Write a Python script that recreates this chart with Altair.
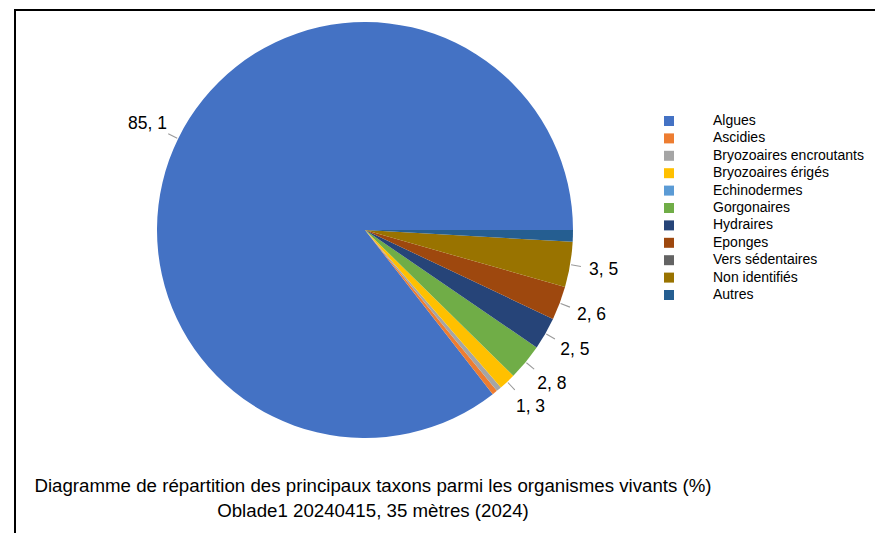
import math
import altair as alt
import pandas as pd

categories = ["Algues", "Ascidies", "Bryozoaires encroutants", "Bryozoaires érigés",
              "Echinodermes", "Gorgonaires", "Hydraires", "Eponges",
              "Vers sédentaires", "Non identifiés", "Autres"]
values = [85.1, 0.4, 0.4, 1.3, 0.0, 2.8, 2.5, 2.6, 0.0, 3.5, 0.9]
colors = ["#4472C4", "#ED7D31", "#A5A5A5", "#FFC000", "#5B9BD5", "#70AD47",
          "#264478", "#9E480E", "#636363", "#997300", "#255E91"]
title_lines = ["Diagramme de répartition des principaux taxons parmi les organismes vivants (%)",
               "Oblade1 20240415, 35 mètres (2024)"]

df = pd.DataFrame({"taxon": categories, "value": values, "order": list(range(len(categories)))})
df["label"] = [f"{v:.1f}".replace(".", ", ") if v >= 1 else "" for v in values]
total = sum(values)

FONT = "Liberation Sans"
theta_scale = alt.Scale(domain=[0, total], range=[2.5 * math.pi, 0.5 * math.pi])

base = alt.Chart(df).transform_window(
    cum="sum(value)", sort=[alt.SortField("order")], frame=[None, 0]
).transform_calculate(
    start="datum.cum - datum.value",
    mid="datum.cum - datum.value / 2",
    m1="datum.cum - datum.value / 2 - 0.04",
    m2="datum.cum - datum.value / 2 + 0.04",
)

pie = base.mark_arc(outerRadius=208).encode(
    theta=alt.Theta("start:Q", scale=theta_scale, stack=False),
    theta2="cum:Q",
    color=alt.Color(
        "taxon:N",
        scale=alt.Scale(domain=categories, range=colors),
        legend=alt.Legend(
            title=None, orient="none", legendX=662, legendY=114, padding=0,
            symbolType="square", symbolSize=100, symbolStrokeWidth=0,
            labelFont=FONT, labelFontSize=14, labelColor="black",
            labelOffset=37, rowPadding=3.4,
        ),
    ),
    order=alt.Order("order:Q"),
)

leaders = base.transform_filter("datum.value >= 1").mark_arc(
    outerRadius=219, innerRadius=209, color="#9a9a9a"
).encode(
    theta=alt.Theta("m1:Q", scale=theta_scale, stack=False),
    theta2="m2:Q",
)

labels = base.mark_text(radius=242, font=FONT, fontSize=17.5, color="black").encode(
    theta=alt.Theta("mid:Q", scale=theta_scale, stack=False),
    text="label:N",
)

one = pd.DataFrame({"a": [0]})
border_top = alt.Chart(one).mark_rule(color="black", strokeWidth=2).encode(
    x=alt.value(14), x2=alt.value(875), y=alt.value(10)
)
border_left = alt.Chart(one).mark_rule(color="black", strokeWidth=2).encode(
    x=alt.value(15), y=alt.value(10), y2=alt.value(533)
)

chart = alt.layer(border_top, border_left, pie, leaders, labels).properties(
    width=730, height=460,
    padding={"left": 0, "top": 0, "right": 145, "bottom": 73},
    autosize=alt.AutoSizeParams(type="none"),
    background="white",
    title=alt.TitleParams(
        text=title_lines, orient="bottom", anchor="middle", frame="group", font=FONT,
        fontSize=18.7, fontWeight="normal", color="black", lineHeight=25,
        offset=-57, dx=8,
    ),
).configure_view(stroke=None)

chart.save("out.html", embed_options={"renderer": "svg", "actions": False})
